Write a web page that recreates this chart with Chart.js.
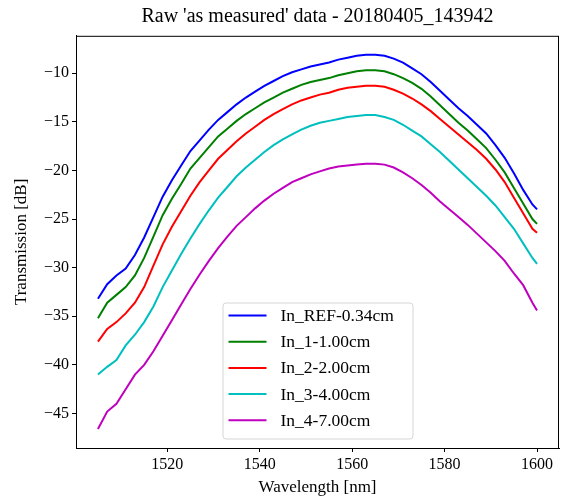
<!DOCTYPE html>
<html>
<head>
<meta charset="utf-8">
<script src="https://cdn.jsdelivr.net/npm/chart.js@4.4.1/dist/chart.umd.min.js"></script>
<style>
  html, body { margin: 0; padding: 0; background: #fff; }
  #wrap { width: 561px; height: 498px; }
</style>
</head>
<body>
<div id="wrap"><canvas id="spectrumChart" width="561" height="498"></canvas></div>
<script>
const wavelength = [1505, 1507, 1509, 1511, 1513, 1515, 1517, 1519, 1521, 1523, 1525, 1527, 1529,
  1531, 1533, 1535, 1537, 1539, 1541, 1543, 1545, 1547, 1549, 1551, 1553, 1555, 1557, 1559,
  1561, 1563, 1565, 1567, 1569, 1571, 1573, 1575, 1577, 1579, 1581, 1583, 1585, 1587, 1589,
  1591, 1593, 1595, 1597, 1599, 1600];

const inRef = [-33.2, -31.7, -30.8, -30.1, -28.7, -26.9, -24.8, -22.7, -21.0, -19.5, -18.0, -16.9, -15.8,
  -14.8, -14.0, -13.2, -12.5, -11.9, -11.3, -10.8, -10.3, -9.9, -9.6, -9.3, -9.1, -8.9, -8.6, -8.4,
  -8.2, -8.1, -8.1, -8.2, -8.5, -8.9, -9.5, -10.1, -10.9, -11.8, -12.7, -13.6, -14.4, -15.3, -16.2,
  -17.4, -18.7, -20.3, -22.0, -23.5, -24.0];

const in1 = [-35.2, -33.6, -32.8, -32.0, -30.8, -29.0, -26.8, -24.6, -22.9, -21.4, -19.8, -18.7, -17.6,
  -16.5, -15.7, -14.9, -14.2, -13.6, -13.0, -12.5, -12.0, -11.6, -11.2, -10.9, -10.7, -10.5, -10.2, -10.0,
  -9.8, -9.7, -9.7, -9.8, -10.1, -10.5, -11.0, -11.6, -12.4, -13.3, -14.2, -15.1, -15.9, -16.8, -17.7,
  -18.9, -20.2, -21.8, -23.4, -25.0, -25.5];

const in2 = [-37.6, -36.3, -35.6, -34.7, -33.6, -32.0, -29.8, -27.6, -25.8, -24.2, -22.6, -21.2, -20.0,
  -18.8, -17.9, -17.0, -16.2, -15.5, -14.8, -14.2, -13.7, -13.2, -12.8, -12.5, -12.2, -12.0, -11.7, -11.5,
  -11.4, -11.3, -11.3, -11.4, -11.7, -12.1, -12.6, -13.2, -13.9, -14.7, -15.5, -16.3, -17.1, -17.9, -18.8,
  -19.9, -21.2, -22.8, -24.4, -26.0, -26.4];

const in3 = [-41.0, -40.2, -39.5, -38.0, -36.9, -35.6, -34.0, -32.0, -30.3, -28.6, -27.0, -25.5, -24.1,
  -22.8, -21.7, -20.6, -19.7, -18.9, -18.1, -17.4, -16.8, -16.3, -15.8, -15.4, -15.1, -14.9, -14.7, -14.5,
  -14.4, -14.3, -14.3, -14.5, -14.8, -15.3, -15.9, -16.5, -17.3, -18.1, -19.0, -19.9, -20.8, -21.7, -22.6,
  -23.6, -24.8, -26.0, -27.5, -29.0, -29.6];

const in4 = [-46.6, -44.8, -44.0, -42.5, -41.0, -40.0, -38.6, -37.0, -35.4, -33.8, -32.2, -30.7, -29.3,
  -28.0, -26.8, -25.7, -24.8, -23.9, -23.1, -22.4, -21.8, -21.2, -20.8, -20.4, -20.1, -19.8, -19.6, -19.5,
  -19.4, -19.3, -19.3, -19.4, -19.7, -20.2, -20.8, -21.5, -22.3, -23.2, -24.0, -24.8, -25.6, -26.5, -27.4,
  -28.3, -29.3, -30.6, -31.8, -33.6, -34.4];

const seriesLabels = ["In_REF-0.34cm", "In_1-1.00cm", "In_2-2.00cm", "In_3-4.00cm", "In_4-7.00cm"];
const seriesColors = ["#0000ff", "#008000", "#ff0000", "#00bfbf", "#bf00bf"];
const xTicks = [1520, 1540, 1560, 1580, 1600];
const yTicks = [-45, -40, -35, -30, -25, -20, -15, -10];

const serif = "'Liberation Serif', 'Times New Roman', serif";

const toPoints = (values) => wavelength.map((x, i) => ({ x, y: values[i] }));

// matplotlib style box on top/right plus a "lower center" legend
const framePlugin = {
  id: "frame",
  afterDraw(chart) {
    const { ctx, chartArea } = chart;
    ctx.save();
    ctx.strokeStyle = "#000";
    ctx.lineWidth = 1;
    ctx.strokeRect(chartArea.left + 0.5, chartArea.top + 0.5,
      chartArea.right - chartArea.left - 1, chartArea.bottom - chartArea.top);

    const sets = chart.data.datasets;
    const rowH = 26.2;
    const boxW = 190;
    const boxH = rowH * sets.length + 5;
    const boxX = (chartArea.left + chartArea.right) / 2 - boxW / 2;
    const boxY = chartArea.bottom - 9.5 - boxH;

    ctx.beginPath();
    ctx.roundRect(boxX + 0.5, boxY + 0.5, boxW, boxH, 3);
    ctx.fillStyle = "rgba(255,255,255,0.8)";
    ctx.fill();
    ctx.strokeStyle = "#d6d6d6";
    ctx.stroke();

    ctx.font = "17.5px " + serif;
    ctx.textBaseline = "middle";
    ctx.textAlign = "left";
    sets.forEach((ds, i) => {
      const y = boxY + 13 + i * rowH;
      ctx.beginPath();
      ctx.strokeStyle = ds.borderColor;
      ctx.lineWidth = 2;
      ctx.moveTo(boxX + 6, y);
      ctx.lineTo(boxX + 44, y);
      ctx.stroke();
      ctx.fillStyle = "#000";
      ctx.fillText(ds.label, boxX + 58, y + 1);
    });
    ctx.restore();
  },
};

new Chart(document.getElementById("spectrumChart"), {
  type: "line",
  data: {
    datasets: [inRef, in1, in2, in3, in4].map((values, i) => ({
      label: seriesLabels[i],
      data: toPoints(values),
      borderColor: seriesColors[i],
      backgroundColor: seriesColors[i],
      borderWidth: 2,
      pointRadius: 0,
      tension: 0,
      fill: false,
    })),
  },
  options: {
    responsive: false,
    animation: false,
    layout: { padding: { right: 2 } },
    plugins: {
      legend: { display: false },
      tooltip: { enabled: false },
      title: {
        display: true,
        fullSize: false,
        text: "Raw 'as measured' data - 20180405_143942",
        color: "#000",
        font: { family: serif, size: 20, weight: "normal", lineHeight: 1.2 },
        padding: { top: 5, bottom: 6.8 },
      },
    },
    scales: {
      x: {
        type: "linear",
        min: 1500.25,
        max: 1604.75,
        afterBuildTicks: (scale) => {
          scale.ticks = xTicks.map((value) => ({ value }));
        },
        afterFit: (scale) => {
          scale.height = 50;
        },
        grid: { drawOnChartArea: false, color: "#000", tickLength: 4 },
        border: { display: true, color: "#000", width: 1 },
        ticks: {
          color: "#000",
          padding: 3,
          maxRotation: 0,
          font: { family: serif, size: 16 },
          callback: (value) => String(value),
        },
        title: {
          display: true,
          text: "Wavelength [nm]",
          color: "#000",
          font: { family: serif, size: 17 },
          padding: { top: 0, bottom: 0 },
        },
      },
      y: {
        type: "linear",
        min: -48.55,
        max: -6.15,
        afterBuildTicks: (scale) => {
          scale.ticks = yTicks.map((value) => ({ value }));
        },
        afterFit: (scale) => {
          scale.width = 76;
        },
        grid: { drawOnChartArea: false, color: "#000", tickLength: 4 },
        border: { display: true, color: "#000", width: 1 },
        ticks: {
          color: "#000",
          padding: 3,
          font: { family: serif, size: 16 },
          callback: (value) => (value < 0 ? "\u2212" + Math.abs(value) : String(value)),
        },
        title: {
          display: true,
          text: "Transmission [dB]",
          color: "#000",
          font: { family: serif, size: 17 },
          padding: { top: 11, bottom: 0 },
        },
      },
    },
  },
  plugins: [framePlugin],
});
</script>
</body>
</html>
